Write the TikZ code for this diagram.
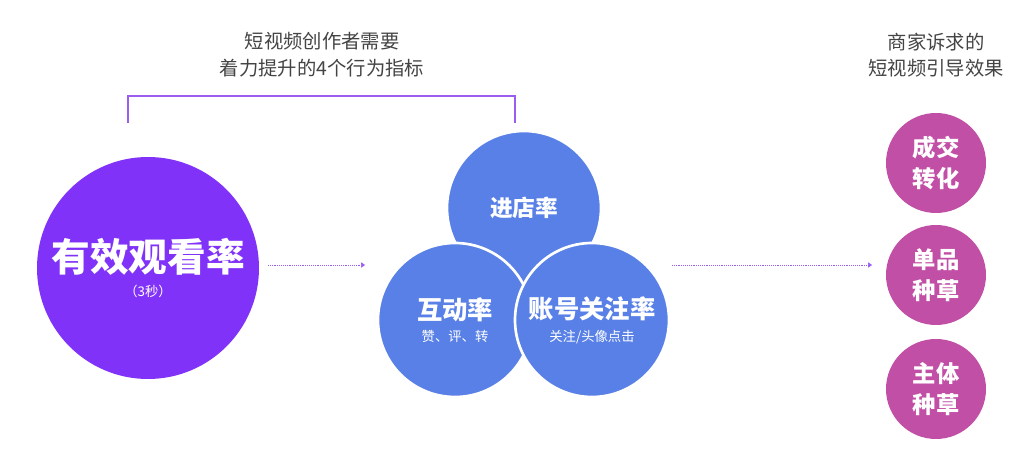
\documentclass[tikz,border=0pt]{standalone}
\usepackage{fontspec}
\setmainfont{Noto Sans CJK SC}
\usetikzlibrary{arrows.meta}
\definecolor{violetc}{HTML}{8132F8}
\definecolor{bluec}{HTML}{5880E6}
\definecolor{pinkc}{HTML}{C24FA6}
\definecolor{grayc}{HTML}{444444}
\definecolor{linec}{HTML}{9B5CF0}
\tikzset{
	blob/.style={circle, fill=bluec, draw=white, line width=2pt, minimum size=154*0.75pt, inner sep=0pt, text=white, align=center},
	tip/.style={circle, fill=pinkc, minimum size=100*0.75pt, inner sep=0pt, text=white, align=center, font=\bfseries\fontsize{17.5}{23}\selectfont},
	head/.style={text=grayc, align=center, font=\fontsize{14.5}{20}\selectfont},
	flow/.style={densely dotted, linec, thin, -{Triangle[length=3pt,width=4pt]}}
}
\begin{document}
\begin{tikzpicture}[x=0.75pt,y=-0.75pt]
	\useasboundingbox (0,0) rectangle (1026,459);
	
	% headings
	\node[head] (hleft) at (322,55) {短视频创作者需要\\着力提升的4个行为指标};
	\node[head] (hright) at (936,55) {商家诉求的\\短视频引导效果};
	\draw[linec, thick] (128,123) -- (128,96) -- (515,96) -- (515,123);
	
	\node[circle, fill=violetc, minimum size=222*0.75pt, inner sep=0pt, text=white, align=center] (watch) at (148,268)
		{{\bfseries\fontsize{29}{32}\selectfont 有效观看率}\\[7pt]{\fontsize{10}{11}\selectfont （3秒）}};
	
	\node[blob] (shop) at (524,208) {\bfseries\fontsize{17}{20}\selectfont 进店率};
	\node[blob] (inter) at (455,320) {\raisebox{-9pt}{\parbox{100pt}{\centering{\bfseries\fontsize{19}{22}\selectfont 互动率}\\[5pt]{\fontsize{10}{12}\selectfont 赞、评、转}}}};
	\node[blob] (follow) at (592,320) {\raisebox{-9pt}{\parbox{100pt}{\centering{\bfseries\fontsize{19}{22}\selectfont 账号关注率}\\[5pt]{\fontsize{10}{12}\selectfont 关注/头像点击}}}};
	
	\node[tip] (deal) at (936,163) {成交\\转化};
	\node[tip] (item) at (936,275) {单品\\种草};
	\node[tip] (brand) at (936,389) {主体\\种草};
	
	\coordinate (a1) at (268,265);
	\coordinate (a2) at (365,265);
	\coordinate (b1) at (672,265);
	\coordinate (b2) at (872,265);
	\draw[flow] (a1) -- (a2);
	\draw[flow] (b1) -- (b2);
\end{tikzpicture}
\end{document}
